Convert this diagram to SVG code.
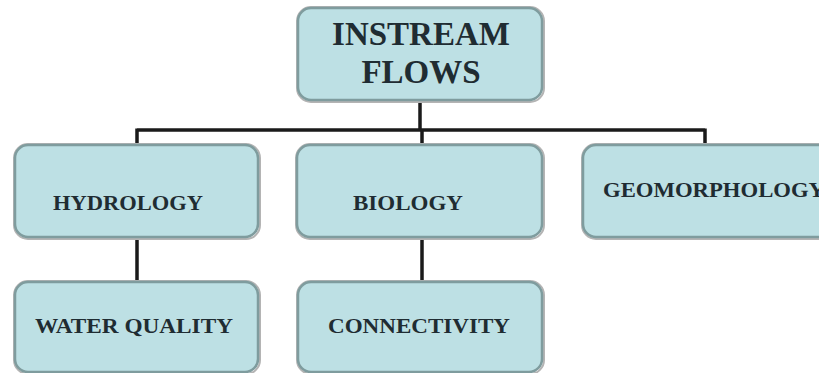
<svg xmlns="http://www.w3.org/2000/svg" width="819" height="373" viewBox="0 0 819 373">
<defs>
<style>
.box{fill:#bde0e4;stroke:#7f9c9e;stroke-width:2.5}
.sh{fill:none;stroke:#b4b4b4;stroke-width:2}
.t{font-family:"Liberation Serif","Times New Roman",serif;font-weight:bold;fill:#1f2c32;text-anchor:middle}
.s{font-size:22px}
.b{font-size:33px}
.c{stroke:#1a1a1a;stroke-width:3.5;fill:none}
</style>
</defs>
<rect width="819" height="373" fill="#ffffff"/>
<g id="connectors">
<path class="c" d="M420 100 V130 M137 130 H705 M137 128.5 V145 M422 130 V145 M705 128.5 V145 M137 237 V282 M422 237 V282"/>
</g>
<g id="instream">
<rect class="sh" x="297" y="7" width="247" height="95" rx="14"/>
<rect class="box" x="298" y="8" width="244" height="92" rx="13"/>
<text class="t b" x="421" y="45">INSTREAM</text>
<text class="t b" x="421" y="83">FLOWS</text>
</g>
<g id="hydrology">
<rect class="sh" x="14" y="144" width="246" height="95" rx="14"/>
<rect class="box" x="15" y="145" width="243" height="92" rx="13"/>
<text class="t s" x="128" y="210" textLength="150" lengthAdjust="spacingAndGlyphs">HYDROLOGY</text>
</g>
<g id="biology">
<rect class="sh" x="296" y="144" width="248" height="95" rx="14"/>
<rect class="box" x="297" y="145" width="245" height="92" rx="13"/>
<text class="t s" x="408" y="210" textLength="110" lengthAdjust="spacingAndGlyphs">BIOLOGY</text>
</g>
<g id="geomorphology">
<rect class="sh" x="582" y="144" width="250" height="95" rx="14"/>
<rect class="box" x="583" y="145" width="248" height="92" rx="13"/>
<text class="t s" x="603" y="197" style="text-anchor:start" textLength="222" lengthAdjust="spacingAndGlyphs">GEOMORPHOLOGY</text>
</g>
<g id="water-quality">
<rect class="sh" x="14" y="281" width="246" height="93" rx="14"/>
<rect class="box" x="15" y="282" width="243" height="90" rx="13"/>
<text class="t s" x="134" y="333" textLength="198" lengthAdjust="spacingAndGlyphs">WATER QUALITY</text>
</g>
<g id="connectivity">
<rect class="sh" x="297" y="281" width="247" height="93" rx="14"/>
<rect class="box" x="298" y="282" width="244" height="90" rx="13"/>
<text class="t s" x="419" y="333" textLength="182" lengthAdjust="spacingAndGlyphs">CONNECTIVITY</text>
</g>
</svg>
